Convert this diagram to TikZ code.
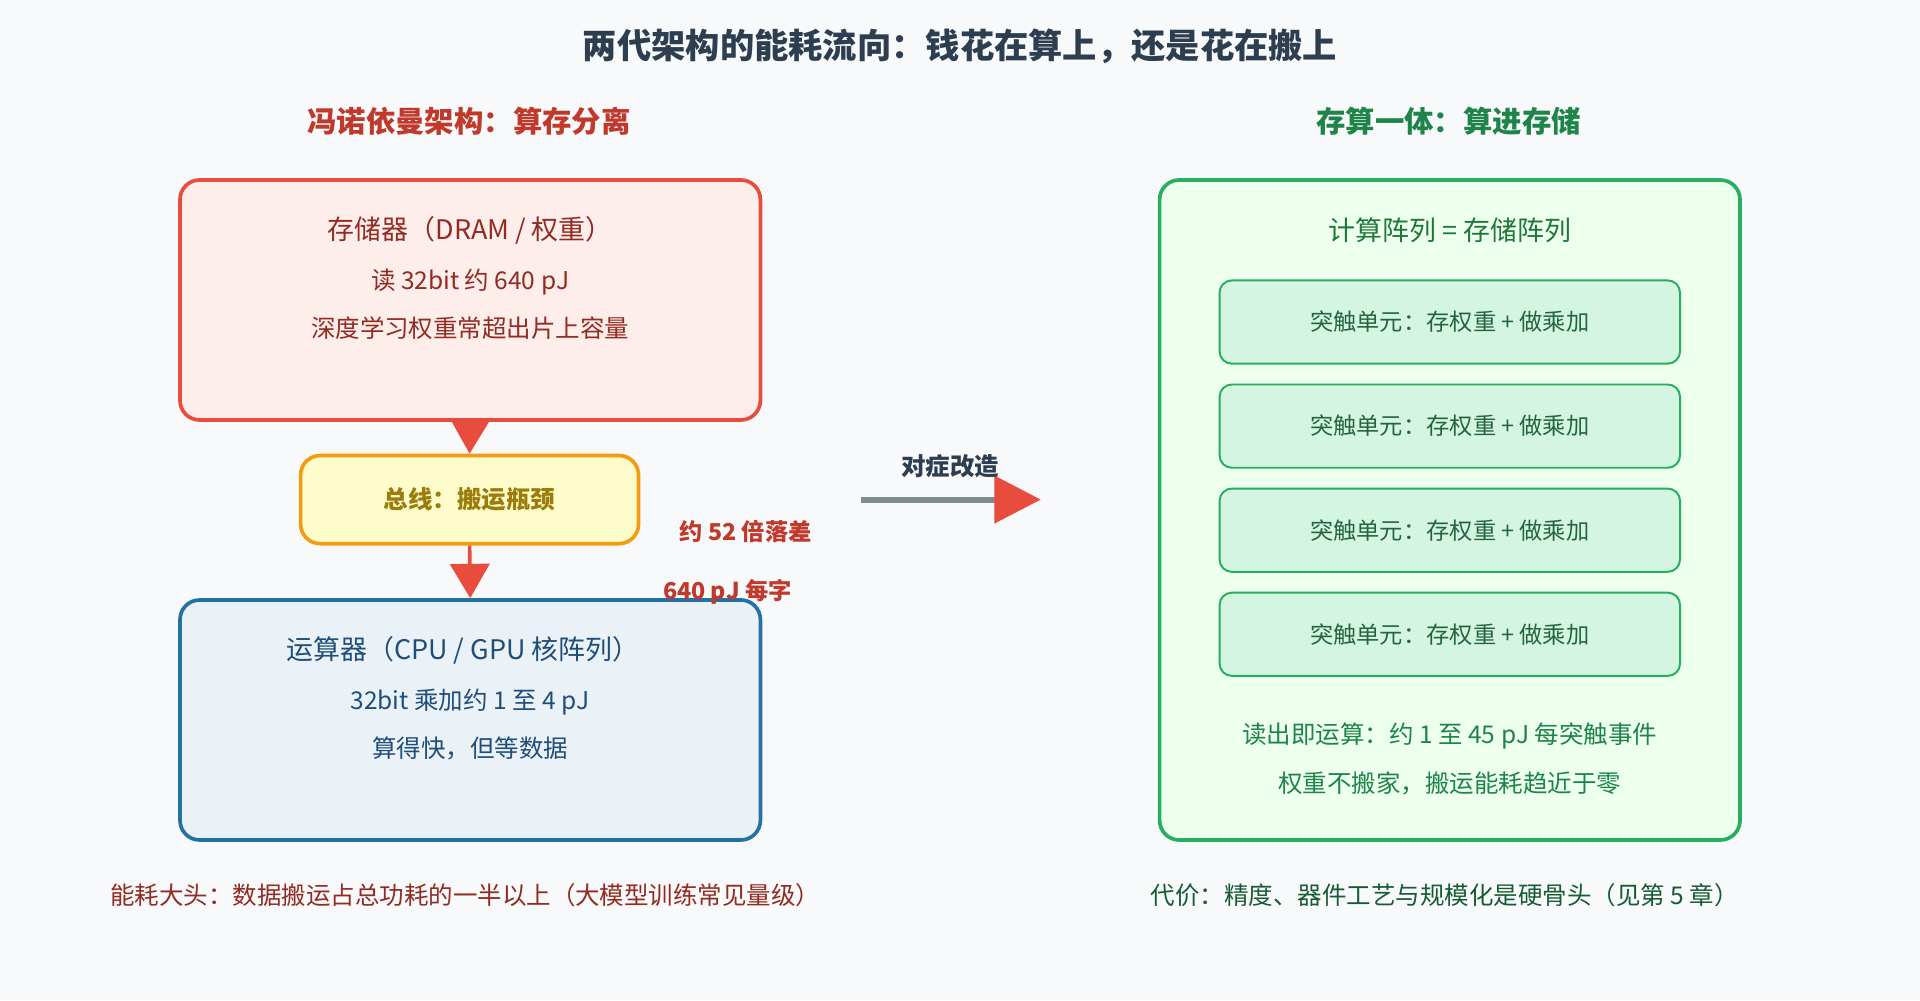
\documentclass[tikz,border=0pt]{standalone}
\usepackage{fontspec}
\setmainfont{Noto Sans CJK SC}
\usetikzlibrary{arrows.meta}
\definecolor{bg}{HTML}{F8F9FB}
\definecolor{ttl}{HTML}{2C3E50}
\definecolor{red1}{HTML}{E74C3C}
\definecolor{red2}{HTML}{C0392B}
\definecolor{red3}{HTML}{922B21}
\definecolor{grn1}{HTML}{27AE60}
\definecolor{grn2}{HTML}{1E8449}
\definecolor{blu1}{HTML}{2471A3}
\definecolor{blu2}{HTML}{1F4E79}
\definecolor{org1}{HTML}{F39C12}
\definecolor{org2}{HTML}{9A7D0A}
\definecolor{gry}{HTML}{7F8C8D}
\begin{document}
\begin{tikzpicture}[x=0.5pt,y=-0.5pt,
  box/.style={draw,rounded corners=8pt,line width=1.5pt,inner sep=0},
  cell/.style={draw=grn1,fill=green!8!white,fill=cellc,rounded corners=5pt,line width=0.8pt,minimum width=188pt,minimum height=34pt,font=\fontsize{9.5}{11}\selectfont,text=ttl!80!green},
  txt/.style={font=\fontsize{10}{12}\selectfont},
  big/.style={font=\fontsize{11}{13}\selectfont},
  dn/.style={-{Triangle[length=14pt,width=16pt]},red1,line width=1.5pt}]
\definecolor{cellc}{HTML}{D5F5E3}
\fill[bg] (0,0) rectangle (1568,817);
\node[font=\fontsize{14}{16}\selectfont\bfseries,text=ttl] (title) at (784,38) {两代架构的能耗流向：钱花在算上，还是花在搬上};
\node[font=\fontsize{12}{14}\selectfont\bfseries,text=red2] (lh) at (383,99) {冯诺依曼架构：算存分离};
\node[font=\fontsize{12}{14}\selectfont\bfseries,text=grn2] (rh) at (1183,99) {存算一体：算进存储};
% memory
\node[box,draw=red1,fill=red1!10!white,minimum width=237pt,minimum height=98pt] (mem) at (384,245) {};
\node[big,text=red3] (m1) at (384,188) {存储器（DRAM / 权重）};
\node[txt,text=red3] (m2) at (384,230) {读 32bit 约 640 pJ};
\node[txt,text=red3] (m3) at (384,268) {深度学习权重常超出片上容量};
% bus
\node[box,draw=org1,fill=yellow!20!white,minimum width=138pt,minimum height=36pt,font=\fontsize{10}{12}\selectfont\bfseries,text=org2] (bus) at (383.5,408) {总线：搬运瓶颈};
% cpu
\node[box,draw=blu1,fill=blu1!9!white,minimum width=237pt,minimum height=98pt] (cpu) at (384,588) {};
\node[big,text=blu2] (c1) at (378,531) {运算器（CPU / GPU 核阵列）};
\node[txt,text=blu2] (c2) at (384,573) {32bit 乘加约 1 至 4 pJ};
\node[txt,text=blu2] (c3) at (384,611) {算得快，但等数据};
\draw[dn] (mem.south) -- (bus.north);
\draw[dn] (bus.south) -- (cpu.north);
\node[font=\fontsize{9.5}{11}\selectfont\bfseries,text=red2] (l1) at (609,434) {约 52 倍落差};
\node[font=\fontsize{9.5}{11}\selectfont\bfseries,text=red2] (l2) at (594,483) {640 pJ 每字};
% middle arrow
\coordinate (a0) at (703,408);
\coordinate (a1) at (850,408);
\draw[gry,line width=2.5pt,-{Triangle[length=19pt,width=19pt,color=red1]}] (a0) -- (a1);
\node[font=\fontsize{10}{12}\selectfont\bfseries,text=ttl] (al) at (776,381) {对症改造};
% right
\node[box,draw=grn1,fill=green!7!white,minimum width=237pt,minimum height=269.5pt] (arr) at (1184,416.5) {};
\node[big,text=ttl!70!green] (r0) at (1184,188) {计算阵列 = 存储阵列};
\node[cell] (s1) at (1184,263) {突触单元：存权重 + 做乘加};
\node[cell] (s2) at (1184,348) {突触单元：存权重 + 做乘加};
\node[cell] (s3) at (1184,433) {突触单元：存权重 + 做乘加};
\node[cell] (s4) at (1184,518) {突触单元：存权重 + 做乘加};
\node[txt,text=grn2] (r1) at (1184,601) {读出即运算：约 1 至 45 pJ 每突触事件};
\node[txt,text=grn2] (r2) at (1184,640) {权重不搬家，搬运能耗趋近于零};
\node[txt,text=red3] (b1) at (380,731) {能耗大头：数据搬运占总功耗的一半以上（大模型训练常见量级）};
\node[txt,text=grn2!70!black] (b2) at (1180,731) {代价：精度、器件工艺与规模化是硬骨头（见第 5 章）};
\end{tikzpicture}
\end{document}
